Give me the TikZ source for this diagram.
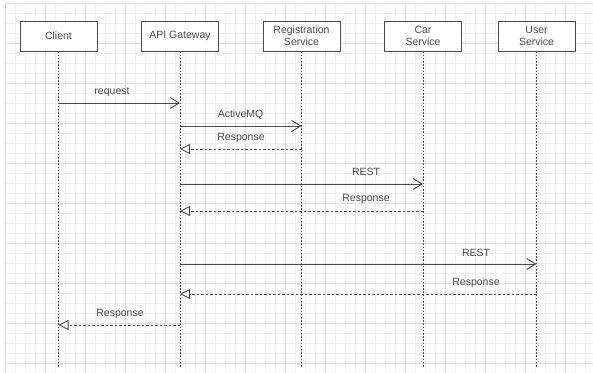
\documentclass[tikz,border=0pt]{standalone}
\usepackage{fontspec}
\setmainfont{Liberation Sans}
\usetikzlibrary{arrows.meta}
\definecolor{ln}{HTML}{4A4A4A}
\definecolor{gridminor}{HTML}{EEEEEE}
\definecolor{gridmajor}{HTML}{DEDEDE}
\tikzset{
  actor/.style={draw=ln, line width=0.9pt, fill=white, minimum width=77pt, minimum height=30pt, inner sep=1pt, align=center, font=\fontsize{10.5}{12}\selectfont, text=ln},
  lifeline/.style={draw=ln, line width=0.8pt, dash pattern=on 1.6pt off 1.6pt},
  callmsg/.style={draw=ln, line width=0.8pt, -{Straight Barb[length=9pt,width=11pt,line width=0.9pt]}},
  retmsg/.style={draw=ln, line width=0.8pt, dash pattern=on 2.5pt off 2pt, -{Triangle[open,length=10pt,width=10pt,fill=white,line width=0.9pt]}},
  lbl/.style={font=\fontsize{10.5}{12}\selectfont, text=ln, inner sep=0pt}
}
\begin{document}
\begin{tikzpicture}[x=1pt,y=-1pt]
\useasboundingbox (0,0) rectangle (593,372);
\fill[white] (0,0) rectangle (593,372);
% grid
\foreach \i in {0,...,58} {
  \draw[gridminor, line width=0.6pt] ({5+10*\i},3) -- ({5+10*\i},372);
}
\foreach \j in {0,...,36} {
  \draw[gridminor, line width=0.6pt] (5,{3+10*\j}) -- (593,{3+10*\j});
}
\foreach \i in {0,...,14} {
  \draw[gridmajor, line width=0.6pt] ({5+40*\i},3) -- ({5+40*\i},372);
}
\foreach \j in {0,...,9} {
  \draw[gridmajor, line width=0.6pt] (5,{3+40*\j}) -- (593,{3+40*\j});
}
% actors
\node[actor] (client) at (58.5,36) {Client};
\node[actor] (api) at (180,36) {API Gateway};
\node[actor] (reg) at (301.5,36) {Registration\\Service};
\node[actor] (car) at (423,36) {Car\\Service};
\node[actor] (user) at (536.5,36) {User\\Service};
% lifeline ends
\coordinate (clientE) at (58.5,368);
\coordinate (apiE) at (180,368);
\coordinate (regE) at (301.5,368);
\coordinate (carE) at (423,368);
\coordinate (userE) at (536.5,368);
\draw[lifeline] (client.south) -- (clientE);
\draw[lifeline] (api.south) -- (apiE);
\draw[lifeline] (reg.south) -- (regE);
\draw[lifeline] (car.south) -- (carE);
\draw[lifeline] (user.south) -- (userE);
% message anchor points
\coordinate (c1) at (58.5,103);  \coordinate (a1) at (180,103);
\coordinate (a2) at (180,126);   \coordinate (r2) at (301.5,126);
\coordinate (r3) at (301.5,149); \coordinate (a3) at (180,149);
\coordinate (a4) at (180,184);   \coordinate (k4) at (423,184);
\coordinate (k5) at (423,211);   \coordinate (a5) at (180,211);
\coordinate (a6) at (180,264);   \coordinate (u6) at (536.5,264);
\coordinate (u7) at (536.5,294); \coordinate (a7) at (180,294);
\coordinate (a8) at (180,325);   \coordinate (c8) at (58.5,325);
% messages
\draw[callmsg] (c1) -- (a1);
\node[lbl] (l1) at (112,92) {request};
\draw[callmsg] (a2) -- (r2);
\node[lbl] (l2) at (240.5,115) {ActiveMQ};
\draw[retmsg] (r3) -- (a3);
\node[lbl] (l3) at (241,138) {Response};
\draw[callmsg] (a4) -- (k4);
\node[lbl] (l4) at (366,172) {REST};
\draw[retmsg] (k5) -- (a5);
\node[lbl] (l5) at (366,199) {Response};
\draw[callmsg] (a6) -- (u6);
\node[lbl] (l6) at (476,253) {REST};
\draw[retmsg] (u7) -- (a7);
\node[lbl] (l7) at (476,283) {Response};
\draw[retmsg] (a8) -- (c8);
\node[lbl] (l8) at (120,314) {Response};
\end{tikzpicture}
\end{document}
